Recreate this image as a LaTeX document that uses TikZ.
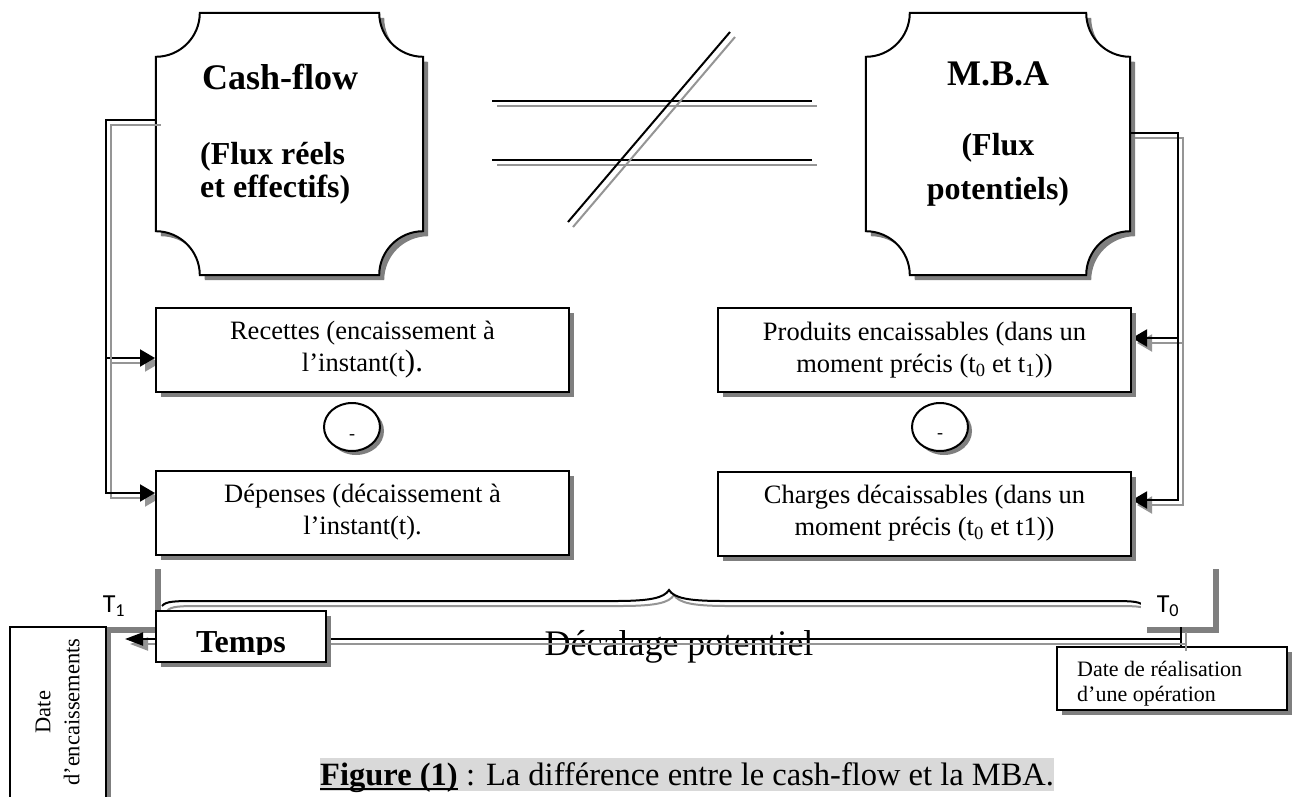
\documentclass[tikz,border=0pt]{standalone}
\usepackage{fontspec}
\setmainfont{Liberation Serif}
\newfontfamily\calibfont{Carlito}
\usetikzlibrary{calc,shadows,arrows.meta,shapes.geometric}

\definecolor{shade}{HTML}{7F7F7F}
\definecolor{lineshade}{HTML}{959595}
\definecolor{capbg}{HTML}{D9D9D9}

% corner radius of the concave plaques and its Bezier handle
\newcommand\crad{44}
\newcommand\cctl{24.3}

% plaque with quarter-circle notches cut out of each corner, fitted to node #1
\newcommand\concaveplaque[1]{%
  \draw[plaqueline]
    (#1.north) -- ($(#1.north east)+(-\crad,0)$)
    .. controls +(0,-\cctl) and +(-\cctl,0) .. ($(#1.north east)+(0,-\crad)$)
    -- ($(#1.south east)+(0,\crad)$)
    .. controls +(-\cctl,0) and +(0,\cctl) .. ($(#1.south east)+(-\crad,0)$)
    -- ($(#1.south west)+(\crad,0)$)
    .. controls +(0,\cctl) and +(\cctl,0) .. ($(#1.south west)+(0,\crad)$)
    -- ($(#1.north west)+(0,-\crad)$)
    .. controls +(\cctl,0) and +(0,-\cctl) .. ($(#1.north west)+(\crad,0)$)
    -- cycle;}

\tikzset{
  boxshadow/.style={drop shadow={shadow xshift=5pt,shadow yshift=-5pt,fill=shade,opacity=1}},
  plaqueline/.style={line width=2pt,fill=white,boxshadow},
  plaquebox/.style={inner sep=0pt,minimum width=#1,minimum height=262pt},
  titletext/.style={inner sep=0pt,font=\fontsize{36}{40}\selectfont\bfseries},
  flowbox/.style={draw,line width=2pt,fill=white,inner sep=0pt,minimum width=413pt,
    minimum height=84pt,align=center,font=\fontsize{26.5}{32}\selectfont,boxshadow},
  conn/.style={line width=2pt,
    preaction={draw=lineshade,line width=2pt,transform canvas={shift={(5pt,-5pt)}}}},
  tipend/.style={-{Triangle[length=15pt,width=17pt]}},
  tagbox/.style={fill=white,inner sep=0pt,
    drop shadow={shadow xshift=6pt,shadow yshift=-6pt,fill=shade,opacity=1}},
  tagtext/.style={inner sep=0pt,font=\calibfont\fontsize{26}{28}\selectfont},
  smallbox/.style={draw,line width=2pt,fill=white,inner sep=0pt,boxshadow},
  datetext/.style={inner sep=0pt,anchor=base west,font=\fontsize{22}{25}\selectfont},
  minusring/.style={ellipse,draw,line width=2pt,fill=white,minimum width=56pt,minimum height=48pt,
    drop shadow={shadow xshift=4pt,shadow yshift=-4pt,fill=shade,opacity=1}},
  minustext/.style={inner sep=0pt,font=\fontsize{18}{20}\selectfont},
}

\begin{document}
\begin{tikzpicture}[x=1pt,y=1pt]
\useasboundingbox (0,0) rectangle (1296,-796);
\fill[white] (0,0) rectangle (1296,-796);
\clip (0,0) rectangle (1296,-796);

% ---- "not equal" sign between the two plaques
\draw[conn] (492,-101) -- (812,-101);
\draw[conn] (492,-160) -- (812,-160);
\draw[conn] (568,-222) -- (730,-32);

% ---- the two plaques
\node[plaquebox=267pt] (cash) at (289.5,-144) {};
\concaveplaque{cash}
\node[titletext,anchor=west] (cashtitle) at (202,-77) {Cash-flow};
\node[inner sep=0pt,anchor=west,align=left,font=\fontsize{32}{33}\selectfont\bfseries]
  (cashbody) at (200,-173.5) {(Flux réels\\et effectifs)};

\node[plaquebox=264pt] (mba) at (998,-144) {};
\concaveplaque{mba}
\node[titletext] (mbatitle) at (998,-74) {M.B.A};
\node[inner sep=0pt,align=center,font=\fontsize{32}{44}\selectfont\bfseries]
  (mbabody) at (998,-170) {(Flux\\potentiels)};

% ---- the flow boxes
\node[flowbox] (rec) at (362.5,-350) {};
\node[flowbox] (dep) at (362.5,-512.5) {};
\node[flowbox] (prod) at (924.5,-350) {};
\node[flowbox] (chg) at (924.5,-513.5) {};

% ---- connectors from each plaque to its pair of boxes
\draw[conn,tipend] ([yshift=24pt]cash.west) -- ++(-50,0) |- ([yshift=-8pt]rec.west);
\draw[conn,tipend] ([yshift=24pt]cash.west) -- ++(-50,0) |- ([yshift=19.5pt]dep.west);
\draw[conn,tipend] ([yshift=11pt]mba.east) -- ++(48,0) |- ([yshift=12pt]prod.east);
\draw[conn,tipend] ([yshift=11pt]mba.east) -- ++(48,0) |- ([yshift=13.5pt]chg.east);

% box faces drawn over the arrow shadows
\node[flowbox] at (rec) {Recettes (encaissement à\\l’instant(t{\fontsize{31}{32}\selectfont).}};
\node[flowbox] at (dep) {Dépenses (décaissement à\\l’instant(t).};
\node[flowbox] at (prod) {Produits encaissables (dans un\\moment précis (t\textsubscript{0} et t\textsubscript{1}))};
\node[flowbox] at (chg) {Charges décaissables (dans un\\moment précis (t\textsubscript{0} et t1))};

% ---- minus signs between the boxes
\node[minusring] (minL) at (352,-427) {};
\node[minustext] (minLt) at (352,-437) {-};
\node[minusring] (minR) at (940,-427) {};
\node[minustext] (minRt) at (940,-436) {-};

% ---- time axis
\draw[conn] (162,-606) .. controls (166,-601) and (175,-601) .. (200,-601)
  -- (615,-601) .. controls (650,-601) and (664,-598) .. (669,-590)
  .. controls (674,-598) and (688,-601) .. (723,-601)
  -- (1105,-601) .. controls (1130,-601) and (1138,-601) .. (1143,-605);

\node[inner sep=0pt,anchor=base,font=\fontsize{36}{40}\selectfont] (decal) at (679,-655) {Décalage potentiel};

\node[tagbox,minimum width=54pt,minimum height=64pt] (t1box) at (128,-595) {};
\node[tagbox,minimum width=72pt,minimum height=64pt] (t0box) at (1177,-595) {};
\node[smallbox,minimum width=230pt,minimum height=63pt] (realbox) at (1172,-678.5) {};

\coordinate (tjoin) at (1181,-639);
\coordinate (tend) at (125,-639);
\draw[conn] (t0box.south -| tjoin) -- (realbox.north -| tjoin);
\draw[conn,-{Triangle[length=18pt,width=13pt]}] (tjoin) -- (tend);

\node[tagtext] (t1) at (114,-606) {T\textsubscript{1}};
\node[tagtext] (t0) at (1168,-606) {T\textsubscript{0}};

\node[smallbox,minimum width=170pt,minimum height=51pt] (temps) at (241,-636.5) {};
\begin{scope}
  \clip ([shift={(1pt,-1pt)}]temps.north west) rectangle ([yshift=9pt]temps.south east);
  \node[inner sep=0pt,anchor=base,font=\fontsize{32}{34}\selectfont\bfseries] (tempstext) at (241,-652) {Temps};
\end{scope}

\begin{scope}
  \clip ([shift={(1pt,-1pt)}]realbox.north west) rectangle ([shift={(-1pt,6pt)}]realbox.south east);
  \node[datetext] (real1) at (1077,-676) {Date de réalisation};
  \node[datetext] (real2) at (1077,-701) {d’une opération};
\end{scope}

\node[smallbox,minimum width=96pt,minimum height=203pt] (encbox) at (58,-728.5) {};
\node[inner sep=0pt,rotate=90,align=center,font=\fontsize{22.5}{29}\selectfont] (enctext) at (57.5,-712) {Date\\d’encaissements};

% ---- caption
\node[anchor=base west,inner sep=0pt,fill=capbg,text height=27pt,text depth=6pt,
  font=\fontsize{32.5}{34}\selectfont\bfseries] (figlab) at (320,-785) {Figure (1)};
\node[anchor=base west,inner sep=0pt,fill=capbg,text height=27pt,text depth=6pt,
  font=\fontsize{32.5}{34}\selectfont] (figtxt) at (figlab.base east) {\ : La différence entre le cash-flow et la MBA.};
\draw[line width=2.2pt] ([yshift=-4pt]figlab.base west) -- ([yshift=-4pt]figlab.base east);
\end{tikzpicture}
\end{document}
